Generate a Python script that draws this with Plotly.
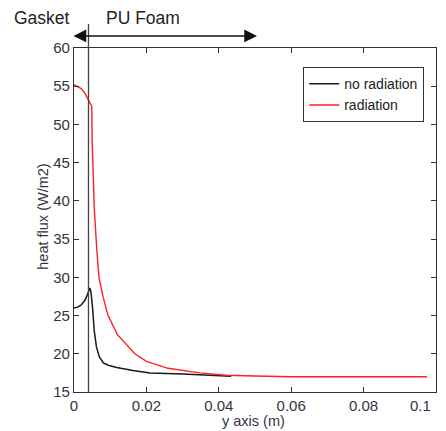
import plotly.graph_objects as go

# no radiation series
x_norad = [0.0, 0.001, 0.002, 0.003, 0.0035, 0.004, 0.0044, 0.0047, 0.0051, 0.0056, 0.0062, 0.007, 0.0081, 0.0095, 0.0118, 0.0163, 0.021, 0.03, 0.038, 0.0434]
y_norad = [26.0, 26.1, 26.4, 27.0, 27.5, 28.0, 28.6, 28.0, 26.2, 23.0, 20.9, 19.6, 18.8, 18.5, 18.2, 17.8, 17.5, 17.35, 17.2, 17.05]

# radiation series
x_rad = [0.0, 0.001, 0.002, 0.003, 0.0036, 0.0043, 0.0049, 0.0050, 0.0052, 0.0056, 0.0063, 0.0069, 0.008, 0.0094, 0.012, 0.0168, 0.02, 0.026, 0.0347, 0.042, 0.05, 0.06, 0.075, 0.0975]
y_rad = [55.2, 55.0, 54.7, 54.1, 53.6, 53.0, 52.4, 48.0, 44.0, 39.0, 33.6, 30.0, 27.5, 25.0, 22.5, 20.0, 19.0, 18.1, 17.5, 17.2, 17.1, 17.0, 17.0, 17.0]

x_ticks = [0, 0.02, 0.04, 0.06, 0.08, 0.1]
x_ticklabels = ["0", "0.02", "0.04", "0.06", "0.08", ""]
y_ticks = [15, 20, 25, 30, 35, 40, 45, 50, 55, 60]

gasket_x = 0.0040

FONT = "Liberation Sans, Arial"
fig = go.Figure()
fig.add_trace(go.Scatter(x=x_norad, y=y_norad, mode="lines", name="no radiation",
                         line=dict(color="#1a1a1a", width=1.5)))
fig.add_trace(go.Scatter(x=x_rad, y=y_rad, mode="lines", name="radiation",
                         line=dict(color="#ff2020", width=1.4)))

tickfont = dict(family=FONT, size=15, color="#333344")
fig.update_xaxes(range=[0, 0.1], tickvals=x_ticks, ticktext=x_ticklabels,
                 ticks="inside", ticklen=5, tickcolor="#333", mirror="ticks",
                 showline=True, linecolor="#333", linewidth=1.2, showgrid=False, zeroline=False,
                 tickfont=tickfont, automargin=False, ticklabeloverflow="allow")
fig.update_yaxes(range=[15, 60], tickvals=y_ticks,
                 ticks="inside", ticklen=5, tickcolor="#333", mirror="ticks",
                 showline=True, linecolor="#333", linewidth=1.2, showgrid=False, zeroline=False,
                 tickfont=tickfont, automargin=False)

# last x tick label (sits left of its tick in the reference)
fig.add_annotation(xref="paper", yref="paper", x=0.956, y=-0.038, text="0.1", showarrow=False,
                   xanchor="center", yanchor="middle", font=tickfont)

fig.add_shape(type="line", xref="x", yref="paper", x0=gasket_x, x1=gasket_x, y0=0, y1=1.07,
              line=dict(color="#444", width=1.3))

fig.add_annotation(xref="paper", yref="paper", x=0.5055, y=1.035, ax=-185, ay=0,
                   axref="pixel", ayref="pixel", showarrow=True, arrowhead=2, arrowsize=1.7,
                   arrowwidth=1.5, arrowcolor="#111", arrowside="end+start", text="")
fig.add_annotation(xref="paper", yref="paper", x=-0.088, y=1.087, text="Gasket", showarrow=False,
                   xanchor="center", yanchor="middle",
                   font=dict(family=FONT, size=17.5, color="#222"))
fig.add_annotation(xref="paper", yref="paper", x=0.19, y=1.087, text="PU Foam", showarrow=False,
                   xanchor="center", yanchor="middle",
                   font=dict(family=FONT, size=17.5, color="#222"))

# axis titles
fig.add_annotation(xref="paper", yref="paper", x=0.497, y=-0.0843, text="y axis (m)", showarrow=False,
                   xanchor="center", yanchor="middle",
                   font=dict(family=FONT, size=14.5, color="#333344"))
fig.add_annotation(xref="paper", yref="paper", x=-0.088, y=0.51, text="heat flux (W/m2)", showarrow=False,
                   xanchor="center", yanchor="middle", textangle=-90,
                   font=dict(family=FONT, size=14.5, color="#333344"))

fig.update_layout(
    width=446, height=431,
    margin=dict(l=74, r=10, t=48, b=39, autoexpand=False),
    paper_bgcolor="white", plot_bgcolor="white",
    showlegend=True,
    legend=dict(x=0.6326, y=0.9448, xanchor="left", yanchor="top",
                bordercolor="#333", borderwidth=1.2, bgcolor="white",
                font=dict(family=FONT, size=14, color="#222"),
                tracegroupgap=0, itemwidth=30),
)

fig.write_html("out.html", config={"displayModeBar": False},
               post_script="document.body.style.margin='0';document.body.style.overflow='hidden';")
